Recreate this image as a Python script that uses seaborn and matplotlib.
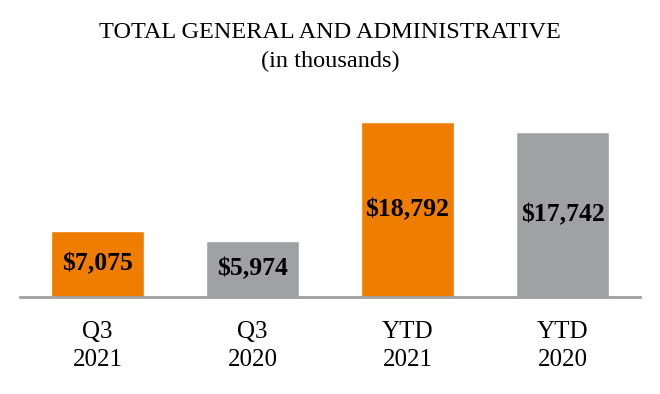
import matplotlib
matplotlib.use("Agg")
import matplotlib.pyplot as plt
import pandas as pd
import seaborn as sns

categories = ["Q3\n2021", "Q3\n2020", "YTD\n2021", "YTD\n2020"]
values = [7075, 5974, 18792, 17742]
bar_colors = ["#EE7D00", "#9FA1A2", "#EE7D00", "#9FA1A2"]


def main():
    sns.set_theme(style="white")
    plt.rcParams["font.family"] = ["Liberation Serif", "DejaVu Serif"]
    plt.rcParams["text.color"] = "black"
    plt.rcParams["xtick.color"] = "black"

    df = pd.DataFrame({"period": categories, "value": values})

    fig = plt.figure(figsize=(6.6, 3.94), dpi=100)
    # axes spans pixel x 20..640, y 100..297
    ax = fig.add_axes([20 / 660, 97 / 394, 620 / 660, 197 / 394])

    sns.barplot(data=df, x="period", y="value", hue="period",
                palette=bar_colors, width=0.6, saturation=1,
                legend=False, ax=ax)

    ax.set_xlim(-0.5, 3.5)
    ax.set_ylim(0, 21150)
    ax.set_xlabel("")
    ax.set_ylabel("")
    ax.set_yticks([])
    for side in ["top", "right", "left"]:
        ax.spines[side].set_visible(False)
    ax.spines["bottom"].set_color("#A0A0A0")
    ax.spines["bottom"].set_linewidth(2)
    ax.tick_params(axis="x", length=0, pad=17, labelsize=18,
                   labelcolor="black")
    for t in ax.get_xticklabels():
        t.set_linespacing(1.35)

    for c in ax.containers:
        ax.bar_label(c, labels=[f"${v:,.0f}" for v in c.datavalues],
                     label_type="center", fontsize=18.5, fontweight="bold",
                     color="black")

    fig.text(0.5, 1 - 33 / 394, "TOTAL GENERAL AND ADMINISTRATIVE",
             ha="center", va="center", fontsize=17.5)
    fig.text(0.5, 1 - 61 / 394, "(in thousands)",
             ha="center", va="center", fontsize=17.5)

    fig.savefig("out.png", dpi=100)


if __name__ == "__main__":
    main()
